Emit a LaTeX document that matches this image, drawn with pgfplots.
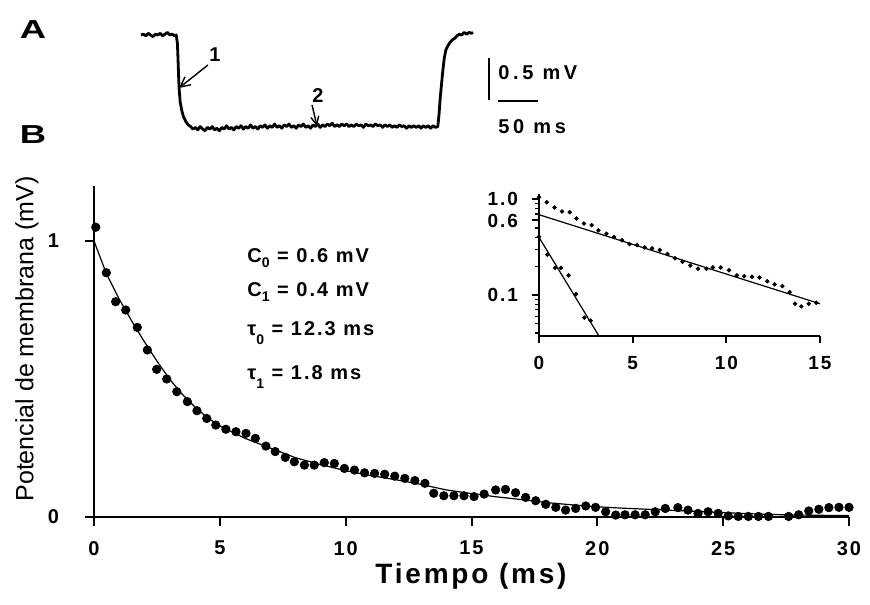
\documentclass[border=0pt]{standalone}
\usepackage{fontspec}
\setmainfont{Liberation Sans}
\newfontfamily\lsp{Liberation Sans}[LetterSpace=10]
\newfontfamily\lspw{Liberation Sans}[LetterSpace=18]
\usepackage{pgfplots}
\pgfplotsset{compat=1.18}
\usetikzlibrary{arrows.meta}

\pgfplotsset{
  myaxis/.style={scale only axis, axis lines=left, axis line style={-, line width=1.1pt},
    tick align=outside, major tick length=4.5pt, tick style={line width=1pt, black},
    /pgf/number format/assume math mode=true,
    ticklabel style={font=\lsp\bfseries\fontsize{10}{12}\selectfont}},
}

\pgfplotstableread{
x y
0.07 1.05
0.49 0.885
0.86 0.78
1.26 0.75
1.72 0.687
2.12 0.605
2.49 0.535
2.89 0.50
3.29 0.454
3.71 0.418
4.09 0.385
4.48 0.357
4.84 0.333
5.24 0.318
5.64 0.309
6.04 0.303
6.41 0.285
6.83 0.257
7.20 0.237
7.60 0.216
7.96 0.200
8.36 0.188
8.75 0.188
9.15 0.197
9.55 0.194
9.95 0.176
10.35 0.170
10.75 0.160
11.15 0.158
11.55 0.155
11.95 0.148
12.35 0.140
12.75 0.132
13.15 0.122
13.50 0.086
13.90 0.077
14.30 0.077
14.70 0.077
15.10 0.074
15.50 0.083
15.96 0.098
16.35 0.100
16.75 0.088
17.15 0.071
17.55 0.059
17.95 0.046
18.35 0.035
18.74 0.025
19.14 0.031
19.54 0.040
19.93 0.035
20.33 0.019
20.73 0.007
21.10 0.008
21.50 0.008
21.90 0.008
22.30 0.019
22.70 0.031
23.20 0.034
23.60 0.025
24.00 0.013
24.40 0.019
24.80 0.013
25.20 0.004
25.60 0.002
26.00 0.002
26.40 0.002
26.80 0.002
27.60 0.002
28.00 0.008
28.40 0.022
28.80 0.028
29.20 0.034
29.60 0.035
30.00 0.035
}\maindata

\pgfplotstableread{
x y
0 1.0
0.5 0.88
1 0.79
1.5 0.71
2 0.635
2.5 0.565
3 0.5
3.5 0.445
4 0.4
4.5 0.36
5 0.33
6 0.285
7 0.25
8 0.215
9 0.19
10 0.168
11 0.15
12 0.135
13 0.118
14 0.098
15 0.085
16 0.073
17 0.063
18 0.052
19 0.044
20 0.037
21 0.032
22 0.028
23 0.024
24 0.020
25 0.016
26 0.012
27 0.009
28 0.007
29 0.006
30 0.005
30 0
}\fitdata

\pgfplotstableread{
x y
0.00 1.05
0.41 0.93
0.83 0.82
1.23 0.746
1.64 0.73
2.00 0.63
2.40 0.557
2.81 0.536
3.17 0.473
3.60 0.437
4.00 0.404
4.43 0.373
4.83 0.34
5.24 0.332
5.64 0.314
6.04 0.307
6.45 0.295
6.86 0.268
7.26 0.242
7.66 0.223
8.07 0.203
8.49 0.188
8.94 0.188
9.28 0.194
9.70 0.194
10.14 0.181
10.56 0.160
10.95 0.157
11.37 0.155
11.77 0.152
12.18 0.139
12.58 0.129
12.99 0.124
13.38 0.107
13.67 0.081
14.00 0.076
14.40 0.081
14.80 0.083
}\slowdata

\pgfplotstableread{
x y
0.00 0.407
0.45 0.264
0.86 0.192
1.17 0.192
1.58 0.160
1.98 0.102
2.42 0.058
2.76 0.054
}\fastdata

\begin{document}
\begin{tikzpicture}
\path[use as bounding box] (0,0) rectangle (435pt,302pt);

% ---------- Panel A ----------
\begin{axis}[scale only axis, hide axis, clip=false,
  anchor=south west, at={(70.5pt,236.2pt)},
  width=166pt, height=50.4pt,
  xmin=0, xmax=415, ymin=-1.15, ymax=0.05]
\addplot[black, line width=1.4pt, line join=round] coordinates {
(0,0.00) (3,0.01) (6,-0.01) (9,0.02) (12,0.0) (15,-0.02) (18,0.01) (21,0.0) (24,0.02) (27,-0.01)
(30,0.01) (33,0.03) (36,0.0) (39,0.01) (42,-0.01) (44,0.0)
(45.5,-0.1) (46.5,-0.35) (47.5,-0.62) (49,-0.80) (51,-0.90) (53,-0.97) (56,-1.03) (59,-1.07) (62,-1.09) (65,-1.12)
(68,-1.10) (71,-1.13) (74,-1.09) (77,-1.12) (80,-1.14) (83,-1.10) (86,-1.12) (89,-1.09) (92,-1.13) (95,-1.11)
(98,-1.14) (101,-1.10) (104,-1.12) (107,-1.08) (110,-1.12) (113,-1.10) (116,-1.13) (119,-1.09) (122,-1.11) (125,-1.08)
(128,-1.12) (131,-1.09) (134,-1.11) (137,-1.07) (140,-1.11) (143,-1.09) (146,-1.12) (149,-1.08) (152,-1.10) (155,-1.07)
(158,-1.11) (161,-1.08) (164,-1.10) (167,-1.06) (170,-1.10) (173,-1.08) (176,-1.11) (179,-1.07) (182,-1.09) (185,-1.06)
(188,-1.10) (191,-1.08) (194,-1.11) (197,-1.07) (200,-1.09) (203,-1.06) (206,-1.10) (209,-1.08) (212,-1.11) (215,-1.07)
(218,-1.09) (221,-1.06) (224,-1.10) (227,-1.07) (230,-1.09) (233,-1.06) (236,-1.08) (239,-1.05) (242,-1.09) (245,-1.07)
(248,-1.09) (251,-1.06) (254,-1.08) (257,-1.06) (260,-1.09) (263,-1.07) (266,-1.09) (269,-1.06) (272,-1.08) (275,-1.07)
(278,-1.10) (281,-1.06) (284,-1.08) (287,-1.07) (290,-1.09) (293,-1.06) (296,-1.08) (299,-1.07) (302,-1.10) (305,-1.07)
(308,-1.09) (311,-1.07) (314,-1.10) (317,-1.08) (320,-1.10) (323,-1.07) (326,-1.09) (329,-1.08) (332,-1.11) (335,-1.08)
(338,-1.10) (341,-1.08) (344,-1.10) (347,-1.08) (350,-1.11) (353,-1.08) (356,-1.10) (359,-1.08) (362,-1.11) (365,-1.08)
(368,-1.10) (371,-1.09)
(372.5,-0.95) (374,-0.75) (375.5,-0.6) (377,-0.45) (379,-0.28) (381,-0.18) (383,-0.14) (386,-0.09) (389,-0.06) (392,-0.04)
(395,-0.01) (398,0.01) (401,0.0) (404,0.03) (407,0.01) (410,0.03) (413,0.02) (415,0.03)
};
% scale bars
\addplot[black, line width=0.9pt] coordinates {(435,-0.274) (435,-0.774)};
\addplot[black, line width=0.9pt] coordinates {(446.25,-0.786) (496.25,-0.786)};
\end{axis}

\node[anchor=west, font=\lspw\bfseries\fontsize{10}{12}\selectfont, inner sep=0pt] at (249pt,265.5pt) {0.5 mV};
\node[anchor=west, font=\lspw\bfseries\fontsize{10}{12}\selectfont, inner sep=0pt] at (249pt,238.5pt) {50 ms};

\node[font=\bfseries\fontsize{13}{15}\selectfont, inner sep=0pt] at (16.5pt,287pt) {\scalebox{1.4}[1]{A}};
\node[font=\bfseries\fontsize{13}{15}\selectfont, inner sep=0pt] at (16.5pt,234.5pt) {\scalebox{1.4}[1]{B}};

\node[font=\bfseries\fontsize{10}{12}\selectfont, inner sep=0pt] at (107.5pt,274.5pt) {1};
\node[font=\bfseries\fontsize{10}{12}\selectfont, inner sep=0pt] at (159pt,254pt) {2};
\draw[line width=0.7pt, -{Straight Barb[length=5pt,width=5pt]}] (104pt,269.5pt) -- (89.5pt,258pt);
\draw[line width=0.7pt, -{Straight Barb[length=4pt,width=4pt]}] (156pt,249.5pt) -- (158.5pt,239pt);

% ---------- Panel B main ----------
\begin{axis}[myaxis,
  anchor=south west, at={(47pt,43.5pt)},
  width=377.5pt, height=165.6pt,
  xmin=0, xmax=30, ymin=0, ymax=1.2,
  xtick={0,5,...,30}, ytick={0,1},
  xticklabel shift=4pt, yticklabel shift=9.5pt]
\addplot[black, line width=0.6pt] table[x=x,y=y] {\fitdata};
\addplot[only marks, mark=*, mark size=2.1pt, black] table[x=x,y=y] {\maindata};
\end{axis}

\node[rotate=90, font=\fontsize{12.5}{14}\selectfont] at (13.5pt,132.5pt) {Potencial de membrana (mV)};
\node[font=\lsp\bfseries\fontsize{14}{16}\selectfont] at (235.5pt,14pt) {Tiempo (ms)};

\begin{scope}[font=\lsp\bfseries\fontsize{10}{12}\selectfont]
\node[anchor=base west, inner sep=0pt] at (123.5pt,170.5pt) {C\raisebox{-0.45ex}{\fontsize{7}{8}\selectfont 0} = 0.6 mV};
\node[anchor=base west, inner sep=0pt] at (123.5pt,153.5pt) {C\raisebox{-0.45ex}{\fontsize{7}{8}\selectfont 1} = 0.4 mV};
\node[anchor=base west, inner sep=0pt] at (123.5pt,134pt) {τ\raisebox{-0.8ex}{\fontsize{7}{8}\selectfont 0} = 12.3 ms};
\node[anchor=base west, inner sep=0pt] at (123.5pt,112pt) {τ\raisebox{-0.8ex}{\fontsize{7}{8}\selectfont 1} = 1.8 ms};
\end{scope}

% ---------- Inset ----------
\begin{axis}[myaxis,
  anchor=south west, at={(269.5pt,134pt)},
  width=140.5pt, height=71pt,
  ymode=log, xmin=0, xmax=15, ymin=0.0373, ymax=1.135,
  xtick={0,5,10,15},
  ytick={0.1,0.6,1}, yticklabels={0.1,0.6,1.0},
  minor ytick={0.04,0.05,0.06,0.07,0.08,0.09,0.2,0.3,0.4,0.5,0.7,0.8,0.9},
  major tick length=3.5pt, minor tick length=2pt,
  minor tick style={line width=0.6pt},
  axis line style={-, line width=0.9pt},
  xticklabel shift=3pt, yticklabel shift=3.5pt,
  ticklabel style={font=\lsp\bfseries\fontsize{9.5}{11}\selectfont}]
\addplot[black, line width=0.6pt] coordinates {(0,0.69) (15,0.081)};
\addplot[black, line width=0.6pt] coordinates {(0,0.40) (3.2,0.0373)};
\addplot[only marks, mark=*, mark size=0.9pt, black] table[x=x,y=y] {\slowdata};
\addplot[only marks, mark=*, mark size=0.9pt, black] table[x=x,y=y] {\fastdata};
\end{axis}
\end{tikzpicture}
\end{document}
